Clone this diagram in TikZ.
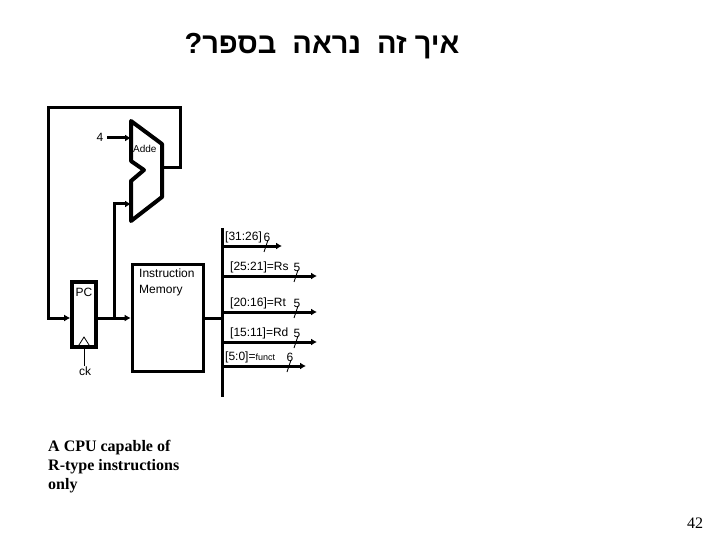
\documentclass[tikz,border=0pt]{standalone}
\usepackage{fontspec}
\setmainfont{Liberation Sans}
\newfontfamily\hebfont[Script=Hebrew]{Liberation Sans}
\newfontfamily\serffont{Liberation Serif}
\TeXXeTstate=1
\usetikzlibrary{arrows.meta, positioning, calc}
\tikzset{
  wire/.style={line width=3pt, line cap=rect, line join=miter},
  feed/.style={wire, -{Latex[length=6pt,width=7pt]}},
  bus/.style={line width=3pt, -{Latex[length=6pt,width=7pt]}},
  tick/.style={line width=0.8pt},
  block/.style={draw, line width=3.6pt, inner sep=0pt},
  lbl/.style={font=\fontsize{12}{12}\selectfont, inner sep=0pt, anchor=west},
}
\begin{document}
\begin{tikzpicture}[x=1pt, y=-1pt]
  \useasboundingbox (0,0) rectangle (720,540);
  % Title
  \node[font=\hebfont\bfseries\fontsize{29}{36}\selectfont, inner sep=0pt] (title) at (322,46) {\beginR איך זה\hspace{8pt} נראה\hspace{8pt} בספר?\endR};
  % Adder
  \coordinate (addA) at (131,121);
  \coordinate (addB) at (162,144);
  \coordinate (addC) at (162,197);
  \coordinate (addD) at (131,221);
  \coordinate (addE) at (131,181);
  \coordinate (addF) at (144,170);
  \coordinate (addG) at (131,161);
  \draw[line width=4pt, line join=round] (addA) -- (addB) -- (addC) -- (addD) -- (addE) -- (addF) -- (addG) -- cycle;
  \coordinate (addIn1) at (131,138);
  \coordinate (addIn2) at (131,204);
  \coordinate (addOut) at (162,168);
  \node[lbl, font=\fontsize{10}{12}\selectfont] (addLbl) at (133,149) {Adde};
  \node[font=\fontsize{12}{12}\selectfont, inner sep=0pt] (four) at (100,137) {4};
  % PC and memory
  \node[block, minimum width=24pt, minimum height=65pt] (pc) at (84,314.5) {};
  \node[font=\fontsize{12}{12}\selectfont, inner sep=0pt] (pcLbl) at (84,292.5) {PC};
  \node[block, minimum width=71pt, minimum height=107pt] (imem) at (168,318) {};
  \node[lbl, align=left, font=\fontsize{12}{16}\selectfont, anchor=north west] (imemLbl) at (139,269) {Instruction\\Memory};
  % Clock
  \coordinate (ckL) at (78,346.5);
  \coordinate (ckT) at (84,337);
  \coordinate (ckR) at (90,346.5);
  \draw[line width=0.8pt] (ckL) -- (ckT) -- (ckR);
  \node[font=\fontsize{12}{12}\selectfont, inner sep=0pt] (ck) at (85,371) {ck};
  \draw[line width=0.8pt] (84,346.5) -- (ck.north -| 84,0);
  % Wires
  \draw[wire] (addOut) -- (180,168) -- (180,108) -- (48,108) -- (48,318);
  \draw[feed] (48,318) -- (pc.west |- 48,318);
  \draw[feed] (pc.east |- 0,318) -- (imem.west);
  \draw[feed] (114,318) -- (114,204) -- (addIn2);
  \draw[feed] (four.east -| 108,0) ++(0,1) -- (addIn1);
  % Bus
  \coordinate (busTop) at (222,228);
  \coordinate (busBot) at (222,397);
  \draw[wire, line cap=butt] (busTop) -- (busBot);
  \draw[wire, line cap=butt] (imem.east) -- (222,318);
  \foreach \yy/\xend/\lx/\txt/\w/\dx in {
      246/282/225/{[31:26]}/6/267,
      276/317/230/{[25:21]=Rs}/5/297,
      312/317/230/{[20:16]=Rt}/5/297,
      342/317/230/{[15:11]=Rd}/5/297,
      366/306/225/{[5:0]={\fontsize{9}{10}\selectfont funct}}/6/290} {
    \coordinate (busEnd) at (\xend,\yy);
    \draw[bus] (222,\yy) -- (busEnd);
    \node[lbl] at (\lx,\yy-9) {\txt};
    \node[font=\fontsize{12}{12}\selectfont, inner sep=0pt] at (\dx,\yy-9) {\w};
    \draw[tick] (\dx+1,\yy-6) -- (\dx-3,\yy+6);
  }
  % Caption
  \node[font=\serffont\bfseries\fontsize{16}{19}\selectfont, align=left, anchor=north west, inner sep=0pt] (caption) at (48,440) {A CPU capable of\\R-type instructions\\only};
  \node[font=\serffont\fontsize{16}{18}\selectfont, inner sep=0pt] (pageNo) at (695,523) {42};
\end{tikzpicture}
\end{document}
